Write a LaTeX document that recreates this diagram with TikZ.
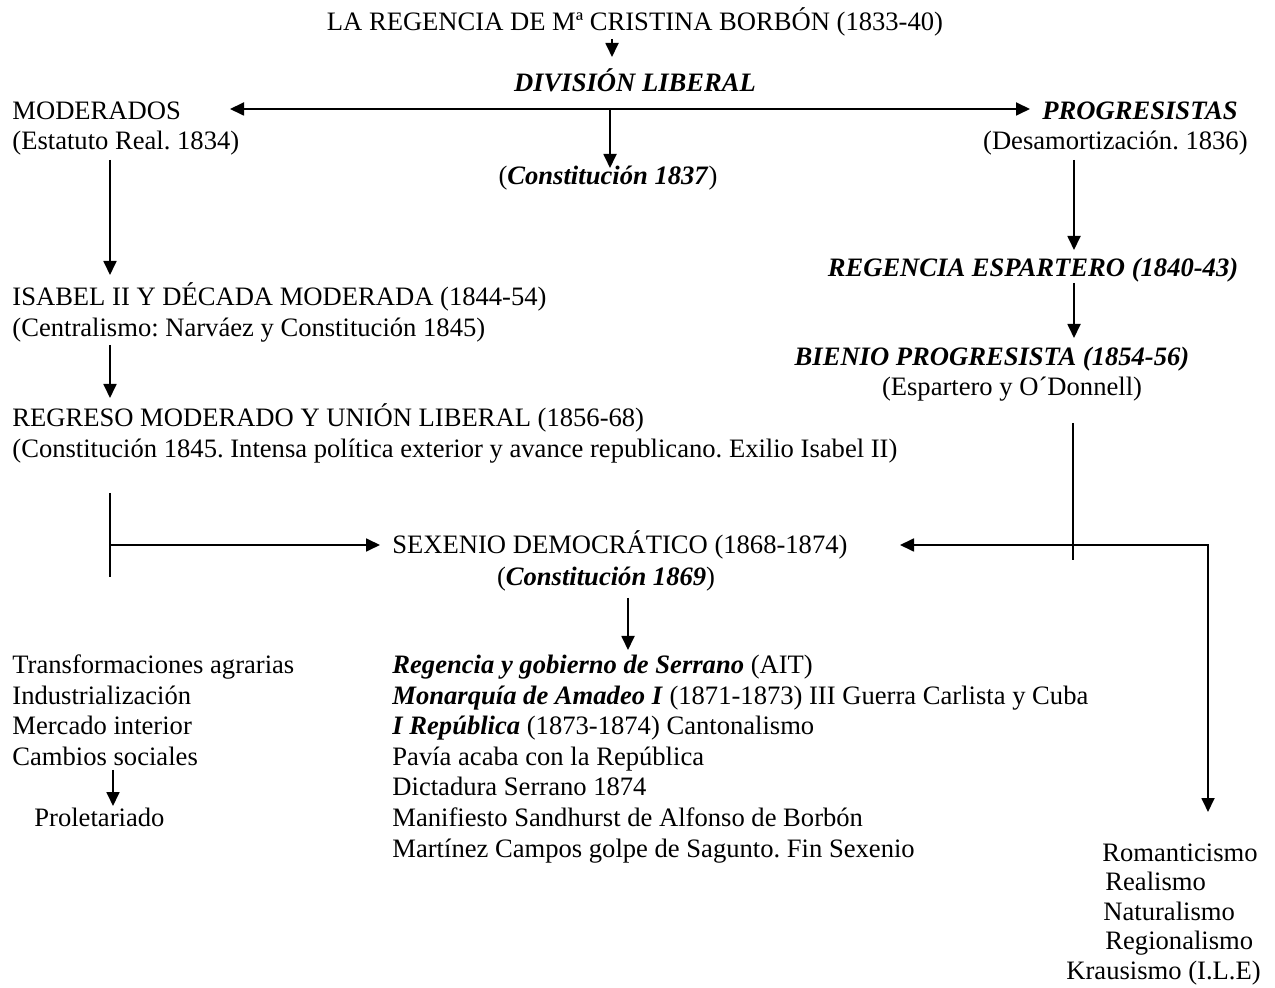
\documentclass[tikz,border=0pt]{standalone}
\usepackage{fontspec}
\setmainfont{Liberation Serif}
\usetikzlibrary{arrows.meta}
\frenchspacing

\begin{document}
\begin{tikzpicture}[x=0.5pt, y=-0.5pt,
  every node/.style={inner sep=0pt, font=\fontsize{13.3}{15.3}\selectfont},
  bi/.style={font=\fontsize{13.3}{15.3}\selectfont\bfseries\itshape},
  ln/.style={line width=0.9pt},
  arr/.style={ln, -{Triangle[length=7pt, width=6.5pt]}},
  arrr/.style={ln, {Triangle[length=7pt, width=6.5pt]}-{Triangle[length=7pt, width=6.5pt]}}]
\useasboundingbox (0,0) rectangle (1275,988);

% upper part
\node[anchor=base] (regencia) at (635,31) {LA REGENCIA DE Mª CRISTINA BORBÓN (1833-40)};
\node[anchor=base, bi] (division) at (635,92) {DIVISIÓN LIBERAL};
\node[anchor=base west] (moderados) at (12,120) {MODERADOS};
\node[anchor=base west] (estatuto) at (12,150) {(Estatuto Real. 1834)};
\node[anchor=base east, bi] (progresistas) at (1238,120) {PROGRESISTAS};
\node[anchor=base east] (desamort) at (1248,150) {(Desamortización. 1836)};
\node[anchor=base] (const37) at (608,185) {(\textbf{\textit{Constitución 1837}})};
\node[anchor=base, bi] (espartero) at (1033,277) {REGENCIA ESPARTERO (1840-43)};
\node[anchor=base west] (isabel) at (12,306) {ISABEL II Y DÉCADA MODERADA (1844-54)};
\node[anchor=base west] (centralismo) at (12,337) {(Centralismo: Narváez y Constitución 1845)};
\node[anchor=base, bi] (bienio) at (992,366) {BIENIO PROGRESISTA (1854-56)};
\node[anchor=base] (odonnell) at (1012,396) {(Espartero y O´Donnell)};
\node[anchor=base west] (regreso) at (12,427) {REGRESO MODERADO Y UNIÓN LIBERAL (1856-68)};
\node[anchor=base west] (const45) at (12,458) {(Constitución 1845. Intensa política exterior y avance republicano. Exilio Isabel II)};
\node[anchor=base west] (sexenio) at (392,554) {SEXENIO DEMOCRÁTICO (1868-1874)};
\node[anchor=base] (const69) at (606,586) {(\textbf{\textit{Constitución 1869}})};

% lists
\foreach \t [count=\i] in {Transformaciones agrarias, Industrialización,
    Mercado interior, Cambios sociales}
  \node[anchor=base west] (eco\i) at (12,{674+30.5*(\i-1)}) {\t};
\node[anchor=base west] (proletariado) at (34,827) {Proletariado};
\foreach \t [count=\i] in {\textbf{\textit{Regencia y gobierno de Serrano}} (AIT),
    \textbf{\textit{Monarquía de Amadeo I}} (1871-1873) III Guerra Carlista y Cuba,
    \textbf{\textit{I República}} (1873-1874) Cantonalismo,
    Pavía acaba con la República, Dictadura Serrano 1874,
    Manifiesto Sandhurst de Alfonso de Borbón,
    Martínez Campos golpe de Sagunto. Fin Sexenio}
  \node[anchor=base west] (sex\i) at (392,{674+30.5*(\i-1)}) {\t};
\foreach \x/\t [count=\i] in {1102/Romanticismo, 1105/Realismo, 1103/Naturalismo,
    1105/Regionalismo, 1066/Krausismo (I.L.E)}
  \node[anchor=base west] (cult\i) at (\x,{861+29.5*(\i-1)}) {\t};

% end points
\coordinate (t1) at (612,39);   \coordinate (t2) at (612,57);
\coordinate (hl) at (230,109);  \coordinate (hr) at (1030,109);
\coordinate (c1) at (610,109);  \coordinate (c2) at (610,168);
\coordinate (m1) at (110,160);  \coordinate (m2) at (110,275);
\coordinate (m3) at (110,345);  \coordinate (m4) at (110,398);
\coordinate (m5) at (110,493);  \coordinate (m6) at (110,577);
\coordinate (m7) at (110,545);  \coordinate (m8) at (380,545);
\coordinate (p1) at (1074,160); \coordinate (p2) at (1074,250);
\coordinate (p3) at (1074,283); \coordinate (p4) at (1074,338);
\coordinate (p5) at (1073,423); \coordinate (p6) at (1073,560);
\coordinate (r1) at (900,545);  \coordinate (r2) at (1208,545);
\coordinate (r3) at (1208,812);
\coordinate (s1) at (628,598);  \coordinate (s2) at (628,650);
\coordinate (e1) at (113,770);  \coordinate (e2) at (113,806);

% connectors
\draw[arr] (t1) -- (t2);
\draw[arrr] (hl) -- (hr);
\draw[arr] (c1) -- (c2);
\draw[arr] (m1) -- (m2);
\draw[arr] (m3) -- (m4);
\draw[ln] (m5) -- (m6);
\draw[arr] (m7) -- (m8);
\draw[arr] (p1) -- (p2);
\draw[arr] (p3) -- (p4);
\draw[ln] (p5) -- (p6);
\draw[arrr] (r1) -- (r2) -- (r3);
\draw[arr] (s1) -- (s2);
\draw[arr] (e1) -- (e2);
\end{tikzpicture}
\end{document}
